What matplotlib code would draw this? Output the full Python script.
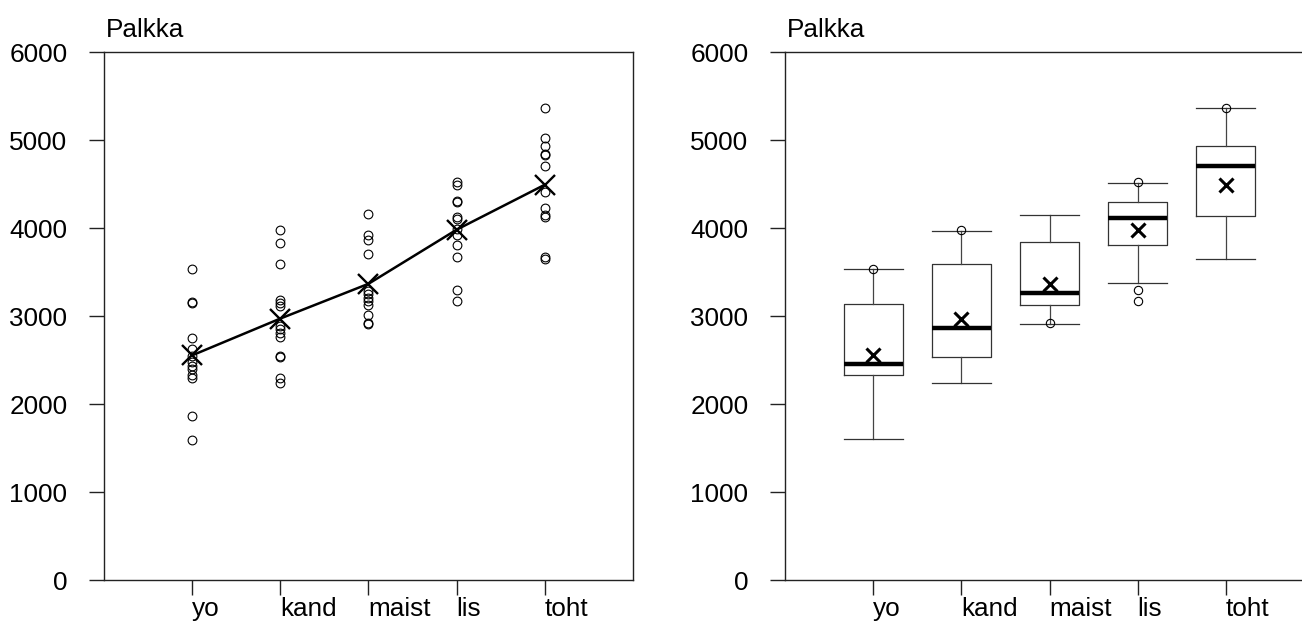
import numpy as np
import matplotlib
matplotlib.use("Agg")
import matplotlib.pyplot as plt

plt.rcParams['font.family'] = ['Liberation Sans', 'DejaVu Sans']

koulutus = ["yo", "kand", "maist", "lis", "toht"]

# palkat ryhmittäin (luettu kuvasta)
palkka_yo = [3535, 3160, 3145, 2749, 2624, 2548, 2473, 2435, 2397, 2333, 2296, 1860, 1588]
palkka_kand = [3972, 3833, 3590, 3185, 3146, 3110, 2890, 2850, 2810, 2760, 2545, 2530, 2290, 2240]
palkka_maist = [4160, 3915, 3860, 3700, 3280, 3250, 3210, 3165, 3125, 3010, 2925, 2910]
palkka_lis = [4526, 4483, 4306, 4290, 4126, 4100, 3990, 3920, 3810, 3668, 3300, 3175]
palkka_toht = [5358, 5020, 4930, 4840, 4825, 4700, 4410, 4225, 4145, 4130, 3670, 3645]
palkat = [palkka_yo, palkka_kand, palkka_maist, palkka_lis, palkka_toht]

keskiarvot = [2553, 2971, 3366, 3981, 4492]

# laatikkokuvion tunnusluvut
alaviiksi = [1602, 2235, 2912, 3370, 3644]
alakvartiili = [2329, 2536, 3123, 3806, 4142]
mediaani = [2455, 2859, 3258, 4111, 4699]
ylakvartiili = [3137, 3586, 3846, 4299, 4928]
ylaviiksi = [3532, 3967, 4151, 4510, 5358]
poikkeavat = [[3535], [3972], [2915], [4520, 3298, 3173], [5360]]

yticks = [0, 1000, 2000, 3000, 4000, 5000, 6000]

fs = 18.8
dark = "#222222"

fig = plt.figure(figsize=(13.02, 6.21), dpi=100)
ax1 = fig.add_axes([104 / 1302, 41 / 621, 529 / 1302, 528 / 621])
ax2 = fig.add_axes([785 / 1302, 41 / 621, 529 / 1302, 528 / 621])

x = np.arange(1, len(koulutus) + 1)

# vasen: pisteet ja keskiarvot
for i, p in enumerate(palkat):
    ax1.plot([x[i]] * len(p), p, linestyle="none", marker="o", markersize=6.3,
             markerfacecolor="none", markeredgecolor="black", markeredgewidth=0.8)
ax1.plot(x, keskiarvot, color="black", linewidth=1.8)
ax1.plot(x, keskiarvot, linestyle="none", marker="x", markersize=15,
         markeredgewidth=1.7, color="black")

# oikea: laatikot
stats = []
for i in range(len(koulutus)):
    stats.append({"whislo": alaviiksi[i], "q1": alakvartiili[i], "med": mediaani[i],
                  "q3": ylakvartiili[i], "whishi": ylaviiksi[i], "fliers": poikkeavat[i]})
ax2.bxp(stats, positions=x, widths=0.67, showfliers=True,
        boxprops=dict(color="#333333", linewidth=0.9),
        whiskerprops=dict(color="#444444", linewidth=0.9),
        capprops=dict(color="#333333", linewidth=0.9),
        capwidths=0.67,
        medianprops=dict(color="black", linewidth=3.2, solid_capstyle="butt"),
        flierprops=dict(marker="o", markersize=6, markerfacecolor="none",
                        markeredgecolor="black", markeredgewidth=0.8))
ax2.plot(x, keskiarvot, linestyle="none", marker="x", markersize=9.5,
         markeredgewidth=2.2, color="black")

for ax in (ax1, ax2):
    ax.set_xlim(0, 6)
    ax.set_ylim(0, 6000)
    ax.set_yticks(yticks)
    ax.set_yticklabels([str(v) for v in yticks])
    ax.set_xticks(x)
    ax.set_xticklabels(koulutus, ha="left")
    ax.tick_params(axis="y", length=10.8, width=1.0, pad=15.5, labelsize=fs, color=dark)
    ax.tick_params(axis="x", length=10.5, width=1.0, pad=2, labelsize=fs, color=dark)
    for s in ax.spines.values():
        s.set_linewidth(1.0)
        s.set_color(dark)
    ax.annotate("Palkka", xy=(0, 1), xycoords="axes fraction", xytext=(1, 11),
                textcoords="offset points", ha="left", va="baseline", fontsize=fs)

fig.savefig("out.png", dpi=100)
